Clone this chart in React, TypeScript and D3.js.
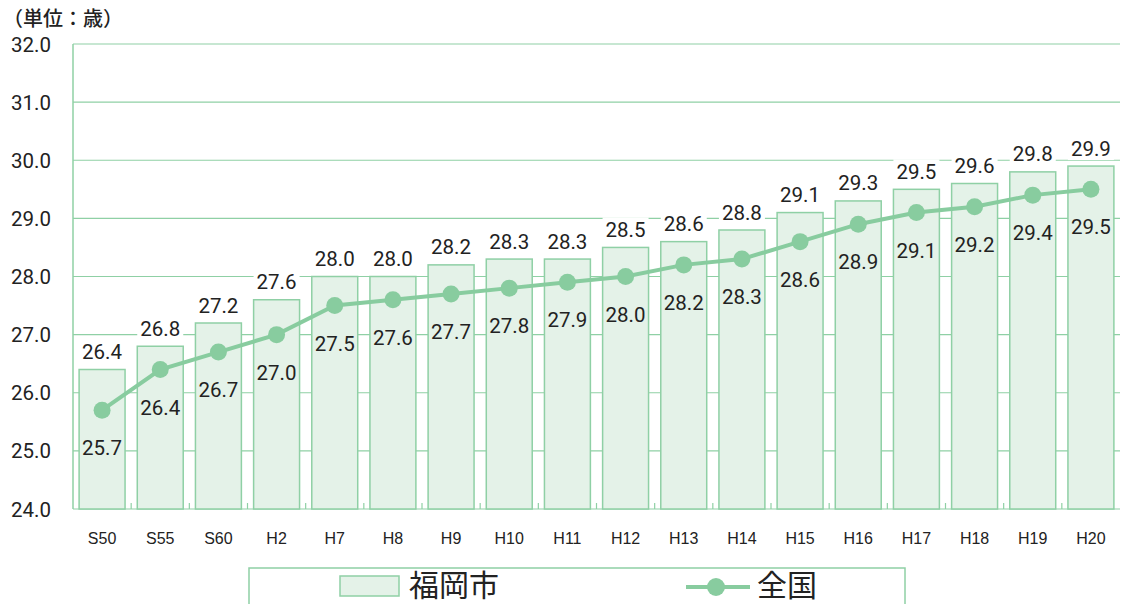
import React from "react";
import * as d3 from "d3";

const categories = ["S50","S55","S60","H2","H7","H8","H9","H10","H11","H12","H13","H14","H15","H16","H17","H18","H19","H20"];
const fukuoka = [26.4,26.8,27.2,27.6,28.0,28.0,28.2,28.3,28.3,28.5,28.6,28.8,29.1,29.3,29.5,29.6,29.8,29.9];
const national = [25.7,26.4,26.7,27.0,27.5,27.6,27.7,27.8,27.9,28.0,28.2,28.3,28.6,28.9,29.1,29.2,29.4,29.5];
const yTicks = [24,25,26,27,28,29,30,31,32];
const seriesNames = ["福岡市","全国"];
const unitLabel = "（単位：歳）";

const W = 1123, H = 604;
const left = 73, right = 1120, top = 44, bottom = 509;
const grid = "#8fd0a5";
const barFill = "#e4f2e8";
const lineColor = "#88cc9f";
const numFont = "Roboto, 'Noto Sans', sans-serif";
const xFont = "'Liberation Sans', Arial, sans-serif";
const jpFont = "'Noto Sans CJK JP', sans-serif";

export default function App() {
  const x = d3.scaleBand<string>().domain(categories).range([left, right]).paddingInner(0.21).paddingOuter(0.105);
  const step = x.step();
  const y = d3.scaleLinear().domain([24, 32]).range([bottom, top]);
  const line = d3.line<number>().x((_, i) => x(categories[i])! + x.bandwidth() / 2).y(d => y(d));
  return (
    <div style={{ position: "absolute", left: 0, top: 0 }}>
      <svg width={W} height={H} style={{ display: "block", background: "#fff" }}>
        <text x={3} y={26} fontFamily={jpFont} fontSize={20} fontWeight={500} fill="#222">{unitLabel}</text>
        {yTicks.map(t => (
          <g key={t}>
            <line x1={left} x2={right} y1={y(t)} y2={y(t)} stroke={grid} strokeWidth={1.2} />
            <text x={51} y={y(t) + 7.5} textAnchor="end" fontFamily={numFont} fontSize={20.5} fill="#222">{t.toFixed(1)}</text>
          </g>
        ))}
        <line x1={left} x2={left} y1={top} y2={bottom} stroke={grid} strokeWidth={1.5} />
        {categories.map((c, i) => i > 0 ? (
          <line key={"tk" + c} x1={left + step * i} x2={left + step * i} y1={bottom} y2={bottom - 6} stroke={grid} strokeWidth={1.2} />
        ) : null)}
        {fukuoka.map((v, i) => (
          <rect key={"b" + i} x={x(categories[i])!} y={y(v)} width={x.bandwidth()} height={bottom - y(v)} fill={barFill} stroke={grid} strokeWidth={1.5} />
        ))}
        {fukuoka.map((v, i) => {
          const cx = x(categories[i])! + x.bandwidth() / 2;
          const cy = y(v) - 18;
          return (
            <g key={"fl" + i}>
              <rect x={cx - 23} y={cy - 12} width={46} height={24} fill="#fff" />
              <text x={cx} y={cy + 7.5} textAnchor="middle" fontFamily={numFont} fontSize={20.5} fill="#222">{v.toFixed(1)}</text>
            </g>
          );
        })}
        <path d={line(national)!} fill="none" stroke={lineColor} strokeWidth={4} />
        {national.map((v, i) => {
          const cx = x(categories[i])! + x.bandwidth() / 2;
          return (
            <g key={"n" + i}>
              <circle cx={cx} cy={y(v)} r={8.5} fill={lineColor} />
              <text x={cx} y={y(v) + 45} textAnchor="middle" fontFamily={numFont} fontSize={20.5} fill="#222">{v.toFixed(1)}</text>
            </g>
          );
        })}
        {categories.map(c => (
          <text key={"x" + c} x={x(c)! + x.bandwidth() / 2} y={544} textAnchor="middle" fontFamily={xFont} fontSize={16} fill="#222">{c}</text>
        ))}
        <rect x={249} y={568} width={656} height={50} fill="#fff" stroke={grid} strokeWidth={1.5} />
        <rect x={340} y={576} width={59} height={20} fill={barFill} stroke={grid} strokeWidth={1.5} />
        <text x={409} y={596} fontFamily={jpFont} fontSize={30} fill="#222">{seriesNames[0]}</text>
        <line x1={686} x2={750} y1={587} y2={587} stroke={lineColor} strokeWidth={4} />
        <circle cx={716} cy={587} r={9} fill={lineColor} />
        <text x={757} y={596} fontFamily={jpFont} fontSize={30} fill="#222">{seriesNames[1]}</text>
      </svg>
    </div>
  );
}
